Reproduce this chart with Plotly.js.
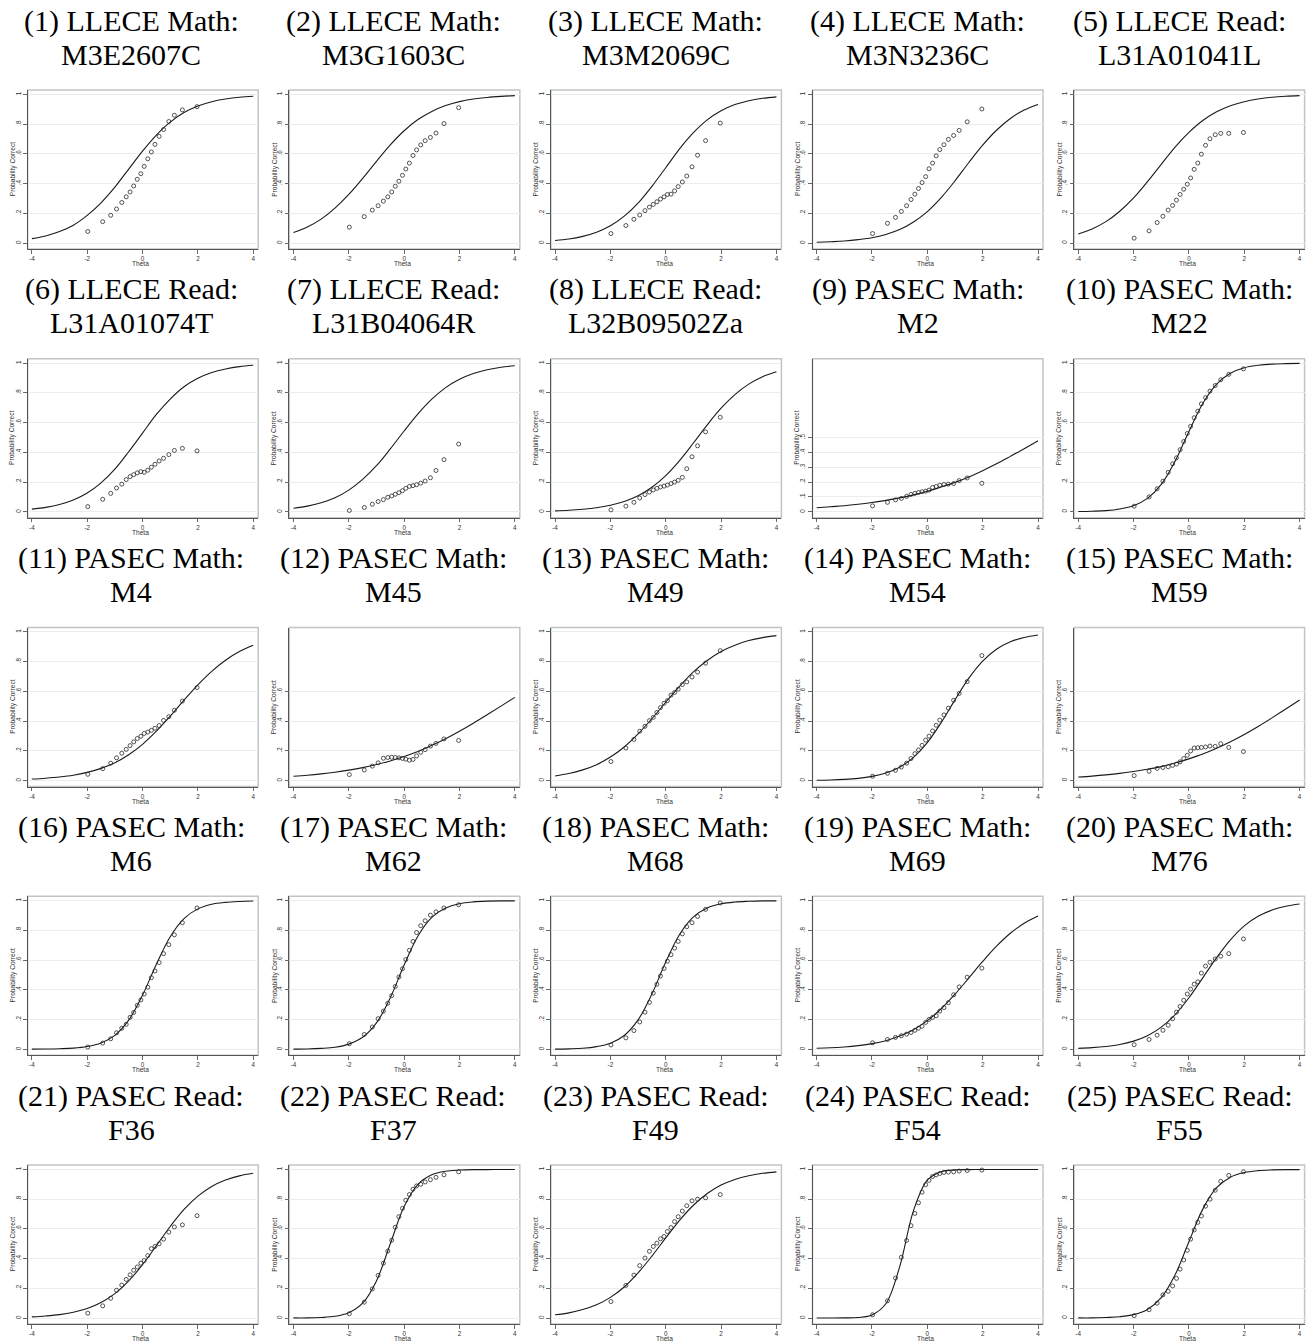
<!DOCTYPE html>
<html>
<head>
<meta charset="utf-8">
<script src="https://cdn.plot.ly/plotly-3.0.1.min.js"></script>
<style>
  html, body { margin: 0; padding: 0; background: #ffffff; }
  #iccGridDiv { width: 1311px; height: 1342px; }
</style>
</head>
<body>
<div id="iccGridDiv"></div>
<script>
"use strict";

// theta grid for the model curve and the bin means for the observed points
const thetaGrid = [-4, -3.5, -3, -2.5, -2, -1.5, -1, -0.5, 0, 0.5, 1, 1.5, 2, 2.5, 3, 3.5, 4];
const thetaBins = [-1.98, -1.44, -1.15, -0.94, -0.75, -0.59, -0.45, -0.32, -0.19, -0.06, 0.06, 0.19, 0.32, 0.45, 0.6, 0.76, 0.95, 1.15, 1.44, 1.97];

const panelHeads = [
    "(1) LLECE Math:", "(2) LLECE Math:", "(3) LLECE Math:", "(4) LLECE Math:", "(5) LLECE Read:",
    "(6) LLECE Read:", "(7) LLECE Read:", "(8) LLECE Read:", "(9) PASEC Math:", "(10) PASEC Math:",
    "(11) PASEC Math:", "(12) PASEC Math:", "(13) PASEC Math:", "(14) PASEC Math:", "(15) PASEC Math:",
    "(16) PASEC Math:", "(17) PASEC Math:", "(18) PASEC Math:", "(19) PASEC Math:", "(20) PASEC Math:",
    "(21) PASEC Read:", "(22) PASEC Read:", "(23) PASEC Read:", "(24) PASEC Read:", "(25) PASEC Read:"
];
const itemCodes = [
    "M3E2607C", "M3G1603C", "M3M2069C", "M3N3236C", "L31A01041L",
    "L31A01074T", "L31B04064R", "L32B09502Za", "M2", "M22",
    "M4", "M45", "M49", "M54", "M59",
    "M6", "M62", "M68", "M69", "M76",
    "F36", "F37", "F49", "F54", "F55"
];

// model curves (probability correct at thetaGrid)
const curve1 = [0.030, 0.048, 0.077, 0.120, 0.186, 0.271, 0.376, 0.498, 0.619, 0.727, 0.814, 0.878, 0.922, 0.951, 0.969, 0.981, 0.988];
const curve2 = [0.071, 0.108, 0.161, 0.235, 0.327, 0.435, 0.550, 0.661, 0.756, 0.831, 0.886, 0.925, 0.952, 0.969, 0.980, 0.987, 0.992];
const curve3 = [0.017, 0.027, 0.045, 0.073, 0.116, 0.181, 0.269, 0.382, 0.507, 0.634, 0.743, 0.829, 0.890, 0.932, 0.958, 0.974, 0.984];
const curve4 = [0.005, 0.009, 0.014, 0.023, 0.036, 0.058, 0.091, 0.142, 0.212, 0.306, 0.419, 0.542, 0.659, 0.759, 0.838, 0.895, 0.933];
const curve5 = [0.061, 0.095, 0.144, 0.214, 0.304, 0.413, 0.530, 0.646, 0.745, 0.825, 0.883, 0.924, 0.951, 0.969, 0.981, 0.988, 0.992];
const curve6 = [0.018, 0.030, 0.049, 0.079, 0.126, 0.195, 0.287, 0.404, 0.530, 0.655, 0.759, 0.842, 0.898, 0.937, 0.961, 0.977, 0.986];
const curve7 = [0.024, 0.038, 0.061, 0.095, 0.146, 0.218, 0.310, 0.423, 0.544, 0.659, 0.758, 0.836, 0.892, 0.931, 0.956, 0.973, 0.983];
const curve8 = [0.006, 0.010, 0.017, 0.027, 0.044, 0.069, 0.108, 0.165, 0.244, 0.345, 0.463, 0.585, 0.697, 0.789, 0.859, 0.909, 0.942];
const curve9 = [0.027, 0.034, 0.041, 0.051, 0.063, 0.077, 0.094, 0.114, 0.138, 0.167, 0.198, 0.235, 0.277, 0.323, 0.373, 0.424, 0.478];
const curve10 = [0.002, 0.004, 0.008, 0.019, 0.041, 0.090, 0.184, 0.341, 0.541, 0.729, 0.860, 0.933, 0.970, 0.986, 0.994, 0.997, 0.999];
const curve11 = [0.010, 0.016, 0.024, 0.036, 0.055, 0.082, 0.120, 0.174, 0.244, 0.332, 0.433, 0.541, 0.644, 0.735, 0.810, 0.868, 0.910];
const curve12 = [0.029, 0.036, 0.045, 0.056, 0.070, 0.087, 0.108, 0.132, 0.162, 0.196, 0.237, 0.282, 0.332, 0.386, 0.443, 0.501, 0.560];
const curve13 = [0.031, 0.047, 0.072, 0.107, 0.158, 0.226, 0.314, 0.416, 0.527, 0.634, 0.731, 0.808, 0.869, 0.911, 0.942, 0.962, 0.975];
const curve14 = [0.002, 0.004, 0.008, 0.015, 0.028, 0.051, 0.090, 0.156, 0.255, 0.390, 0.543, 0.689, 0.804, 0.884, 0.934, 0.963, 0.980];
const curve15 = [0.024, 0.030, 0.038, 0.048, 0.061, 0.076, 0.094, 0.118, 0.146, 0.178, 0.217, 0.261, 0.310, 0.364, 0.422, 0.482, 0.542];
const curve16 = [0.001, 0.002, 0.004, 0.008, 0.019, 0.043, 0.094, 0.196, 0.364, 0.572, 0.758, 0.880, 0.945, 0.976, 0.989, 0.995, 0.998];
const curve17 = [0.001, 0.002, 0.006, 0.014, 0.035, 0.081, 0.178, 0.347, 0.567, 0.763, 0.888, 0.951, 0.980, 0.992, 0.997, 0.999, 0.999];
const curve18 = [0.001, 0.003, 0.007, 0.018, 0.041, 0.093, 0.198, 0.372, 0.587, 0.773, 0.891, 0.951, 0.979, 0.991, 0.996, 0.999, 0.999];
const curve19 = [0.007, 0.010, 0.016, 0.025, 0.038, 0.058, 0.089, 0.132, 0.193, 0.273, 0.371, 0.480, 0.591, 0.694, 0.781, 0.848, 0.897];
const curve20 = [0.006, 0.011, 0.019, 0.032, 0.055, 0.091, 0.149, 0.233, 0.347, 0.481, 0.617, 0.737, 0.831, 0.895, 0.937, 0.963, 0.978];
const curve21 = [0.008, 0.014, 0.023, 0.039, 0.064, 0.104, 0.164, 0.250, 0.359, 0.487, 0.616, 0.731, 0.821, 0.886, 0.929, 0.957, 0.974];
const curve22 = [0.001, 0.001, 0.004, 0.012, 0.036, 0.100, 0.250, 0.500, 0.750, 0.900, 0.964, 0.988, 0.996, 0.999, 0.999, 1.000, 1.000];
const curve23 = [0.022, 0.035, 0.057, 0.089, 0.139, 0.209, 0.304, 0.417, 0.539, 0.658, 0.759, 0.838, 0.895, 0.933, 0.958, 0.974, 0.984];
const curve24 = [0.000, 0.000, 0.001, 0.004, 0.021, 0.096, 0.345, 0.723, 0.928, 0.985, 0.997, 0.999, 1.000, 1.000, 1.000, 1.000, 1.000];
const curve25 = [0.001, 0.001, 0.004, 0.009, 0.023, 0.058, 0.137, 0.291, 0.514, 0.733, 0.877, 0.948, 0.979, 0.992, 0.997, 0.999, 0.999];

// observed proportion correct at thetaBins
const obs1 = [0.078, 0.144, 0.187, 0.229, 0.273, 0.311, 0.344, 0.384, 0.429, 0.467, 0.516, 0.567, 0.613, 0.664, 0.718, 0.764, 0.818, 0.860, 0.896, 0.918];
const obs2 = [0.107, 0.178, 0.222, 0.251, 0.282, 0.311, 0.344, 0.382, 0.416, 0.456, 0.498, 0.538, 0.589, 0.627, 0.660, 0.689, 0.711, 0.740, 0.804, 0.911];
const obs3 = [0.064, 0.118, 0.160, 0.189, 0.218, 0.242, 0.260, 0.278, 0.296, 0.311, 0.327, 0.329, 0.351, 0.380, 0.411, 0.451, 0.513, 0.591, 0.689, 0.807];
const obs4 = [0.064, 0.133, 0.173, 0.213, 0.251, 0.293, 0.329, 0.367, 0.407, 0.447, 0.500, 0.538, 0.587, 0.629, 0.662, 0.698, 0.724, 0.758, 0.816, 0.902];
const obs5 = [0.033, 0.082, 0.138, 0.180, 0.222, 0.253, 0.289, 0.327, 0.362, 0.396, 0.438, 0.496, 0.538, 0.598, 0.658, 0.702, 0.729, 0.738, 0.738, 0.744];
const obs6 = [0.035, 0.084, 0.124, 0.160, 0.186, 0.217, 0.237, 0.250, 0.262, 0.270, 0.266, 0.280, 0.300, 0.320, 0.342, 0.360, 0.385, 0.413, 0.427, 0.410];
const obs7 = [0.009, 0.029, 0.051, 0.069, 0.082, 0.098, 0.107, 0.118, 0.129, 0.142, 0.158, 0.171, 0.176, 0.182, 0.193, 0.207, 0.229, 0.278, 0.351, 0.456];
const obs8 = [0.013, 0.038, 0.064, 0.093, 0.116, 0.133, 0.147, 0.158, 0.167, 0.173, 0.180, 0.190, 0.200, 0.212, 0.232, 0.290, 0.370, 0.444, 0.538, 0.636];
const obs9 = [0.040, 0.064, 0.080, 0.090, 0.104, 0.117, 0.124, 0.130, 0.135, 0.139, 0.146, 0.164, 0.170, 0.179, 0.184, 0.186, 0.190, 0.210, 0.228, 0.192];
const obs10 = [0.038, 0.100, 0.155, 0.206, 0.265, 0.323, 0.363, 0.418, 0.473, 0.527, 0.575, 0.633, 0.677, 0.726, 0.768, 0.812, 0.850, 0.889, 0.925, 0.962];
const obs11 = [0.042, 0.080, 0.117, 0.153, 0.184, 0.210, 0.235, 0.260, 0.283, 0.298, 0.317, 0.326, 0.338, 0.352, 0.370, 0.405, 0.430, 0.473, 0.535, 0.626];
const obs12 = [0.040, 0.071, 0.097, 0.119, 0.150, 0.155, 0.157, 0.155, 0.153, 0.149, 0.144, 0.137, 0.142, 0.166, 0.190, 0.208, 0.232, 0.250, 0.280, 0.270];
const obs13 = [0.128, 0.219, 0.277, 0.332, 0.365, 0.403, 0.425, 0.458, 0.491, 0.520, 0.538, 0.575, 0.593, 0.615, 0.646, 0.664, 0.697, 0.730, 0.790, 0.874];
const obs14 = [0.029, 0.049, 0.069, 0.091, 0.117, 0.148, 0.181, 0.206, 0.237, 0.272, 0.299, 0.334, 0.372, 0.407, 0.442, 0.487, 0.540, 0.586, 0.666, 0.841];
const obs15 = [0.033, 0.062, 0.082, 0.088, 0.093, 0.102, 0.111, 0.126, 0.148, 0.170, 0.199, 0.219, 0.221, 0.223, 0.226, 0.232, 0.230, 0.248, 0.223, 0.195];
const obs16 = [0.015, 0.042, 0.071, 0.111, 0.142, 0.168, 0.215, 0.248, 0.296, 0.332, 0.372, 0.418, 0.482, 0.527, 0.584, 0.644, 0.704, 0.770, 0.852, 0.951];
const obs17 = [0.038, 0.100, 0.150, 0.206, 0.257, 0.310, 0.361, 0.423, 0.487, 0.542, 0.604, 0.666, 0.726, 0.786, 0.832, 0.865, 0.903, 0.925, 0.951, 0.973];
const obs18 = [0.029, 0.077, 0.126, 0.184, 0.250, 0.316, 0.378, 0.438, 0.493, 0.544, 0.593, 0.637, 0.681, 0.726, 0.777, 0.825, 0.852, 0.894, 0.942, 0.985];
const obs19 = [0.044, 0.066, 0.080, 0.091, 0.102, 0.113, 0.128, 0.142, 0.155, 0.181, 0.201, 0.215, 0.226, 0.257, 0.281, 0.314, 0.367, 0.420, 0.485, 0.546];
const obs20 = [0.031, 0.066, 0.095, 0.128, 0.162, 0.206, 0.250, 0.288, 0.330, 0.372, 0.405, 0.438, 0.454, 0.513, 0.560, 0.586, 0.608, 0.626, 0.644, 0.743];
const obs21 = [0.033, 0.082, 0.133, 0.187, 0.222, 0.260, 0.291, 0.322, 0.344, 0.369, 0.387, 0.420, 0.467, 0.482, 0.500, 0.531, 0.578, 0.613, 0.627, 0.689];
const obs22 = [0.029, 0.107, 0.196, 0.287, 0.369, 0.451, 0.524, 0.611, 0.682, 0.738, 0.793, 0.831, 0.867, 0.889, 0.900, 0.916, 0.931, 0.947, 0.964, 0.984];
const obs23 = [0.111, 0.220, 0.289, 0.353, 0.404, 0.449, 0.482, 0.504, 0.533, 0.549, 0.582, 0.609, 0.649, 0.682, 0.720, 0.756, 0.789, 0.800, 0.809, 0.831];
const obs24 = [0.022, 0.116, 0.269, 0.409, 0.522, 0.622, 0.704, 0.776, 0.847, 0.898, 0.927, 0.953, 0.964, 0.973, 0.980, 0.982, 0.984, 0.989, 0.993, 0.996];
const obs25 = [0.016, 0.056, 0.100, 0.156, 0.180, 0.216, 0.267, 0.329, 0.391, 0.456, 0.531, 0.593, 0.644, 0.687, 0.753, 0.800, 0.860, 0.920, 0.960, 0.984];

// y tick sets
const yTicksFull = [0, 0.2, 0.4, 0.6, 0.8, 1];
const yTickTextFull = ["0", ".2", ".4", ".6", ".8", "1"];
const yTicksTenths = [0, 0.1, 0.2, 0.3, 0.4, 0.5];
const yTickTextTenths = ["0", ".1", ".2", ".3", ".4", ".5"];
const yTicksLow = [0, 0.2, 0.4, 0.6];
const yTickTextLow = ["0", ".2", ".4", ".6"];
const xTicks = [-4, -2, 0, 2, 4];
const xTickText = ["-4", "-2", "0", "2", "4"];

const allCurves = [curve1, curve2, curve3, curve4, curve5, curve6, curve7, curve8, curve9, curve10,
    curve11, curve12, curve13, curve14, curve15, curve16, curve17, curve18, curve19, curve20,
    curve21, curve22, curve23, curve24, curve25];
const allObs = [obs1, obs2, obs3, obs4, obs5, obs6, obs7, obs8, obs9, obs10,
    obs11, obs12, obs13, obs14, obs15, obs16, obs17, obs18, obs19, obs20,
    obs21, obs22, obs23, obs24, obs25];

const pageW = 1311;
const pageH = 1342;
const boxLeft = 27.7, boxTop = 90, boxW = 230.5, boxH = 159;
const colStep = 261.6, rowStep = 268.75, cellW = 262.2;
const titleFont = { family: "Liberation Serif, Times New Roman, serif", size: 30, color: "#000000" };
const smallFont = { family: "Liberation Sans, Arial, sans-serif", size: 6.6, color: "#333333" };

function px(v) { return v / pageW; }
function py(v) { return 1 - v / pageH; }

var data = [];
var layout = {
    width: pageW,
    height: pageH,
    margin: { l: 0, r: 0, t: 0, b: 0 },
    paper_bgcolor: "#ffffff",
    plot_bgcolor: "#ffffff",
    showlegend: false,
    font: smallFont,
    annotations: [],
    shapes: []
};

for (var i = 0; i < 25; i++) {
    const n = i + 1;
    const col = i % 5;
    const row = Math.floor(i / 5);
    const xName = n === 1 ? "x" : "x" + n;
    const yName = n === 1 ? "y" : "y" + n;
    const x0 = boxLeft + col * colStep;
    const top = boxTop + row * rowStep;

    var yTv = yTicksFull, yTt = yTickTextFull;
    if (n === 9) { yTv = yTicksTenths; yTt = yTickTextTenths; }
    if (n === 12 || n === 15) { yTv = yTicksLow; yTt = yTickTextLow; }

    data.push({
        x: thetaGrid,
        y: allCurves[i],
        xaxis: xName,
        yaxis: yName,
        type: "scatter",
        mode: "lines",
        line: { color: "#1a1a1a", width: 1.1, shape: "spline", smoothing: 1 },
        hoverinfo: "skip"
    });
    data.push({
        x: thetaBins,
        y: allObs[i],
        xaxis: xName,
        yaxis: yName,
        type: "scatter",
        mode: "markers",
        marker: { symbol: "circle-open", size: 4, color: "#2a2a2a", line: { width: 0.8, color: "#2a2a2a" } },
        hoverinfo: "skip"
    });

    layout["xaxis" + (n === 1 ? "" : n)] = {
        domain: [px(x0), px(x0 + boxW)],
        anchor: yName,
        range: [-4.15, 4.18],
        tickvals: xTicks,
        ticktext: xTickText,
        ticks: "outside",
        ticklen: 3.5,
        tickwidth: 0.8,
        tickcolor: "#444444",
        tickfont: { size: 6.3, color: "#333333" },
        showline: true,
        linecolor: "#555555",
        linewidth: 1,
        showgrid: false,
        zeroline: false,
        automargin: false
    };
    layout["yaxis" + (n === 1 ? "" : n)] = {
        domain: [py(top + boxH), py(top)],
        anchor: xName,
        range: [-0.04, 1.03],
        tickvals: yTv,
        ticktext: yTt,
        tickangle: -90,
        ticks: "outside",
        ticklen: 3.5,
        tickwidth: 0.8,
        tickcolor: "#444444",
        tickfont: { size: 6.3, color: "#333333" },
        showline: true,
        linecolor: "#555555",
        linewidth: 1,
        showgrid: true,
        gridcolor: "#e6eef1",
        gridwidth: 1,
        zeroline: false,
        automargin: false
    };

    // light frame round the plot region
    layout.shapes.push({
        type: "rect",
        xref: xName + " domain",
        yref: yName + " domain",
        x0: 0, x1: 1, y0: 0, y1: 1,
        line: { color: "#c4c4c4", width: 1.5 },
        layer: "below"
    });

    // axis titles
    layout.annotations.push({
        text: "Theta",
        xref: "paper", yref: "paper",
        x: px(x0 + boxW / 2 - 2), y: py(top + boxH + 14.5),
        xanchor: "center", yanchor: "middle",
        showarrow: false,
        font: smallFont
    });
    layout.annotations.push({
        text: "Probability Correct",
        xref: "paper", yref: "paper",
        x: px(x0 - 15), y: py(top + boxH / 2),
        xanchor: "center", yanchor: "middle",
        textangle: -90,
        showarrow: false,
        font: smallFont
    });

    // panel title, two lines
    const cx = px(col * cellW + cellW / 2);
    layout.annotations.push({
        text: panelHeads[i],
        xref: "paper", yref: "paper",
        x: cx, y: py(20.5 + row * rowStep),
        xanchor: "center", yanchor: "middle",
        showarrow: false,
        font: titleFont
    });
    layout.annotations.push({
        text: itemCodes[i],
        xref: "paper", yref: "paper",
        x: cx, y: py(54 + row * rowStep),
        xanchor: "center", yanchor: "middle",
        showarrow: false,
        font: titleFont
    });
}

Plotly.newPlot("iccGridDiv", data, layout, { staticPlot: true, displayModeBar: false });
</script>
</body>
</html>
